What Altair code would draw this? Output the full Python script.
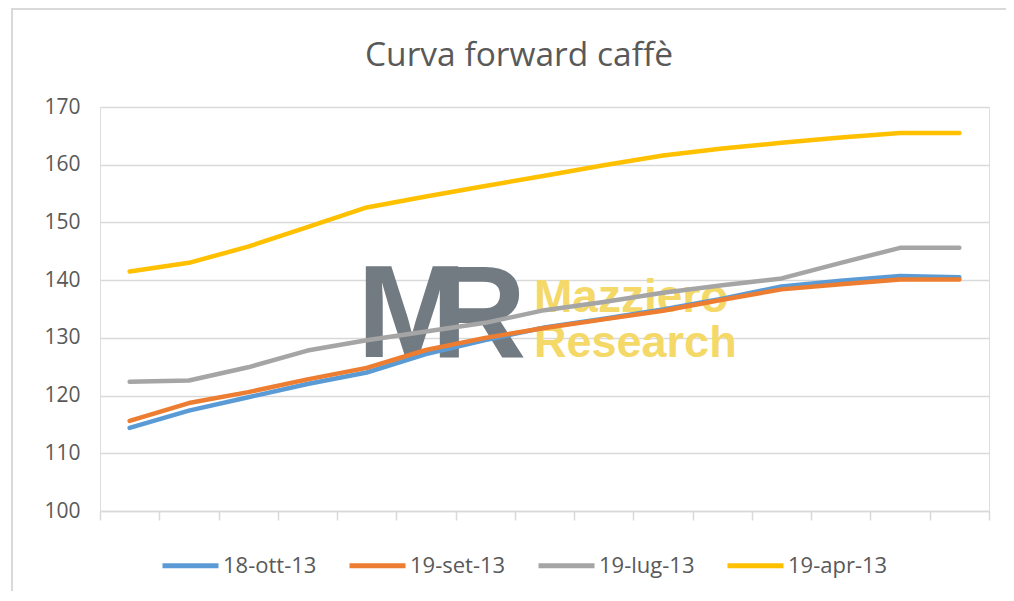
import altair as alt
import pandas as pd

# --- data ---
scadenze = list(range(1, 16))  # 15 forward maturities (unlabelled in the original)
series_names = ["18-ott-13", "19-set-13", "19-lug-13", "19-apr-13"]
s_18_ott_13 = [114.4, 117.4, 119.7, 122.0, 124.0, 127.2, 129.6, 131.8, 133.3, 134.9, 136.8, 138.9, 139.9, 140.7, 140.5]
s_19_set_13 = [115.6, 118.7, 120.6, 122.8, 124.8, 127.9, 130.0, 131.7, 133.2, 134.7, 136.6, 138.4, 139.3, 140.1, 140.1]
s_19_lug_13 = [122.4, 122.6, 124.9, 127.8, 129.6, 131.1, 132.6, 134.8, 136.2, 137.8, 139.1, 140.3, 143.0, 145.6, 145.6]
s_19_apr_13 = [141.5, 143.0, 145.8, 149.2, 152.6, 154.5, 156.3, 158.1, 159.9, 161.6, 162.8, 163.8, 164.7, 165.5, 165.5]
colors = ["#5B9BD5", "#ED7D31", "#A5A5A5", "#FFC000"]
y_ticks = [100, 110, 120, 130, 140, 150, 160, 170]
title_text = "Curva forward caffè"

rows = []
for name, vals in zip(series_names, [s_18_ott_13, s_19_set_13, s_19_lug_13, s_19_apr_13]):
    for k, v in zip(scadenze, vals):
        rows.append({"serie": name, "pos": k - 0.5, "valore": v})
df = pd.DataFrame(rows)

FONT = "Open Sans"
GREY_TXT = "#595959"
GRID = "#D9D9D9"

one = pd.DataFrame({"a": [0]})

border = alt.Chart(one).mark_rect(fillOpacity=0, stroke=GRID, strokeWidth=2).encode(
    x=alt.value(-88), x2=alt.value(1000), y=alt.value(-98), y2=alt.value(600)
)

title = alt.Chart(one).mark_text(
    text=title_text, font=FONT, fontSize=33.5, color=GREY_TXT, align="center", baseline="alphabetic"
).encode(x=alt.value(419), y=alt.value(-41))

wm_m = alt.Chart(one).mark_text(
    text="M", font="Liberation Sans", fontSize=132, fontWeight="bold", color="#737B82",
    align="left", baseline="alphabetic"
).encode(x=alt.value(257), y=alt.value(250))
wm_r = alt.Chart(one).mark_text(
    text="R", font="Liberation Sans", fontSize=132, fontWeight="bold", color="#737B82",
    align="left", baseline="alphabetic"
).encode(x=alt.value(331), y=alt.value(250))
wm_1 = alt.Chart(one).mark_text(
    text="Mazziero", font="Liberation Sans", fontSize=46, fontWeight="bold", color="#F4D868",
    align="left", baseline="alphabetic"
).encode(x=alt.value(434), y=alt.value(205))
wm_2 = alt.Chart(one).mark_text(
    text="Research", font="Liberation Sans", fontSize=45, fontWeight="bold", color="#F4D868",
    align="left", baseline="alphabetic"
).encode(x=alt.value(434), y=alt.value(250))

lines = alt.Chart(df).mark_line(strokeWidth=4.5, strokeCap="round", strokeJoin="round").encode(
    x=alt.X("pos:Q", scale=alt.Scale(domain=[0, 15], nice=False, zero=False),
            axis=alt.Axis(values=list(range(16)), labels=False, title=None, grid=False,
                          ticks=True, tickSize=9, tickColor=GRID, tickWidth=1.5,
                          domainColor=GRID, domainWidth=1.5)),
    y=alt.Y("valore:Q", scale=alt.Scale(domain=[100, 170], nice=False, zero=False),
            axis=alt.Axis(values=y_ticks, title=None, ticks=False, domain=False,
                          grid=True, gridColor=GRID, gridWidth=1.5,
                          labelFont=FONT, labelFontSize=21, labelColor=GREY_TXT, labelPadding=20)),
    color=alt.Color("serie:N", scale=alt.Scale(domain=series_names, range=colors),
                    legend=alt.Legend(title=None, orient="none", legendX=60, legendY=428,
                                      direction="horizontal", symbolType="stroke",
                                      symbolSize=3136, symbolStrokeWidth=5,
                                      labelFont=FONT, labelFontSize=22, labelColor=GREY_TXT,
                                      labelOffset=2, columnPadding=22, padding=0)),
    order=alt.Order("pos:Q"),
)

chart = alt.layer(border, title, wm_m, wm_r, wm_1, wm_2, lines).properties(
    width=889, height=404,
    autosize=alt.AutoSizeParams(type="none"),
    padding={"left": 92, "top": 99, "right": 17, "bottom": 80},
).configure_view(stroke=None).configure(background="white")

chart.save("out.html", embed_options={"renderer": "svg", "actions": False})
